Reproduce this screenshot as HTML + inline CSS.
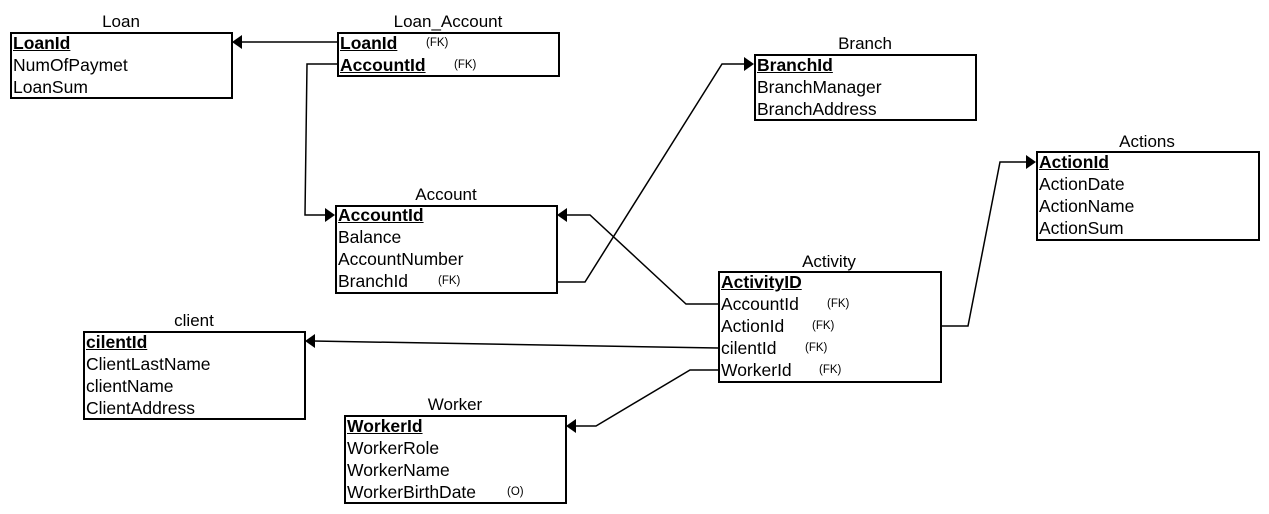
<!DOCTYPE html>
<html><head><meta charset="utf-8"><style>
body{margin:0;width:1269px;height:514px;background:#fff;position:relative;overflow:hidden;font-family:"Liberation Sans",Arial,sans-serif;color:#000}
.t{position:absolute;font-size:17px;text-align:center;width:222px;line-height:18px}
.b{position:absolute;border:2px solid #000;box-sizing:border-box;background:#fff}
.r{position:absolute;left:1px;font-size:17.5px;line-height:18px;white-space:nowrap;margin-top:-1px}
.k{font-weight:bold;text-decoration:underline}
.fk{font-size:11.5px;position:absolute;top:0px;font-weight:normal;text-decoration:none}
svg{position:absolute;left:0;top:0}
</style></head><body>
<svg width="1269" height="514">
<g fill="none" stroke="#000" stroke-width="1.5">
<polyline points="337,42 240,42"/>
<polyline points="337,64 307,64 305,215 327,215"/>
<polyline points="557,282 585,282 722,64 746,64"/>
<polyline points="718,304 686,304 590,215 565,215"/>
<polyline points="941,326 968,326 1000,162 1028,162"/>
<polyline points="718,348 313,341"/>
<polyline points="718,370 690,370 596,426 574,426"/>
</g>
<g fill="#000">
<polygon points="232,42 242,35 242,49"/>
<polygon points="335,215 325,208 325,222"/>
<polygon points="754,64 744,57 744,71"/>
<polygon points="557,215 567,208 567,222"/>
<polygon points="1036,162 1026,155 1026,169"/>
<polygon points="305,341 315,334 315,348"/>
<polygon points="566,426 576,419 576,433"/>
</g>
</svg>

<div class="t" style="left:10px;top:13px">Loan</div>
<div class="b" style="left:10px;top:32px;width:223px;height:67px">
<div class="r k" style="top:1px">LoanId</div>
<div class="r" style="top:23px">NumOfPaymet</div>
<div class="r" style="top:45px">LoanSum</div></div>

<div class="t" style="left:337px;top:13px">Loan_Account</div>
<div class="b" style="left:337px;top:32px;width:223px;height:45px">
<div class="r k" style="top:1px">LoanId<span class="fk" style="left:86px">(FK)</span></div>
<div class="r k" style="top:23px">AccountId<span class="fk" style="left:114px">(FK)</span></div></div>

<div class="t" style="left:754px;top:35px">Branch</div>
<div class="b" style="left:754px;top:54px;width:223px;height:67px">
<div class="r k" style="top:1px">BranchId</div>
<div class="r" style="top:23px">BranchManager</div>
<div class="r" style="top:45px">BranchAddress</div></div>

<div class="t" style="left:1036px;top:133px">Actions</div>
<div class="b" style="left:1036px;top:151px;width:224px;height:90px">
<div class="r k" style="top:1px">ActionId</div>
<div class="r" style="top:23px">ActionDate</div>
<div class="r" style="top:45px">ActionName</div>
<div class="r" style="top:67px">ActionSum</div></div>

<div class="t" style="left:335px;top:186px">Account</div>
<div class="b" style="left:335px;top:205px;width:223px;height:89px">
<div class="r k" style="top:0px">AccountId</div>
<div class="r" style="top:22px">Balance</div>
<div class="r" style="top:44px">AccountNumber</div>
<div class="r" style="top:66px">BranchId<span class="fk" style="left:100px">(FK)</span></div></div>

<div class="t" style="left:718px;top:253px">Activity</div>
<div class="b" style="left:718px;top:271px;width:224px;height:112px">
<div class="r k" style="top:1px">ActivityID</div>
<div class="r" style="top:23px">AccountId<span class="fk" style="left:106px">(FK)</span></div>
<div class="r" style="top:45px">ActionId<span class="fk" style="left:91px">(FK)</span></div>
<div class="r" style="top:67px">cilentId<span class="fk" style="left:84px">(FK)</span></div>
<div class="r" style="top:89px">WorkerId<span class="fk" style="left:98px">(FK)</span></div></div>

<div class="t" style="left:83px;top:312px">client</div>
<div class="b" style="left:83px;top:331px;width:223px;height:89px">
<div class="r k" style="top:1px">cilentId</div>
<div class="r" style="top:23px">ClientLastName</div>
<div class="r" style="top:45px">clientName</div>
<div class="r" style="top:67px">ClientAddress</div></div>

<div class="t" style="left:344px;top:396px">Worker</div>
<div class="b" style="left:344px;top:415px;width:223px;height:89px">
<div class="r k" style="top:1px">WorkerId</div>
<div class="r" style="top:23px">WorkerRole</div>
<div class="r" style="top:45px">WorkerName</div>
<div class="r" style="top:67px">WorkerBirthDate<span class="fk" style="left:160px">(O)</span></div></div>
</body></html>
